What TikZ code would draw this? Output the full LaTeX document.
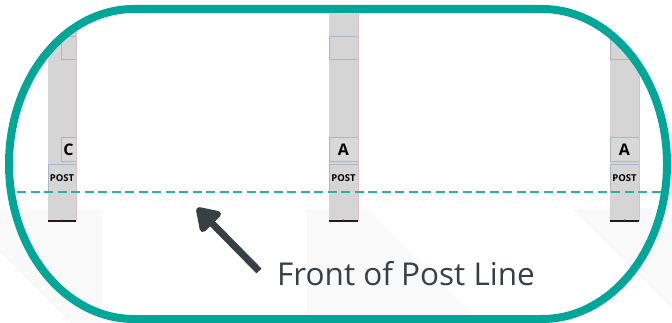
\documentclass[tikz,border=0pt]{standalone}
\usepackage{fontspec}
\setmainfont{Open Sans}
\usetikzlibrary{arrows.meta}
\definecolor{ringteal}{HTML}{00A698}
\definecolor{dashteal}{HTML}{26B3A6}
\definecolor{postgray}{HTML}{D5D5D5}
\definecolor{boxgray}{HTML}{D8D8D8}
\definecolor{boxblue}{HTML}{A9B8C9}
\definecolor{pinkedge}{HTML}{DCC0C6}
\definecolor{footdark}{HTML}{231A1C}
\definecolor{faint}{HTML}{F9F9FA}
\definecolor{inkgray}{HTML}{3A3F43}
\newcommand\mypost[5]{%
  \fill[postgray] (#2,0) rectangle (#3,221);
  \draw[boxline] (#4,36) rectangle (#3,59);
  \draw[boxline,fill=boxgray] (#4,137) rectangle (#3,161);
  \node[lbl] (#1l) at ({(#4+#3)/2},149.5) {#5};
  \draw[boxline] (#2,192) -- (#2,164) -- (#3,164) -- (#3,192);
  \node[posttxt] (#1p) at ({(#2+#3)/2},178.5) {POST};
  \draw[pinkline] (#3,0) -- (#3,221);
  \draw[postfoot] (#2,221) -- (#3,221);
  \fill[blue!70] ({(#2+#3)/2},220) circle (0.6);
}
\begin{document}
\begin{tikzpicture}[x=1pt,y=-1pt,
  boxline/.style={draw=boxblue,line width=0.7pt},
  pinkline/.style={draw=pinkedge,line width=0.5pt},
  postfoot/.style={draw=footdark,line width=2pt},
  lbl/.style={font=\bfseries\fontsize{16}{16}\selectfont,text=black,inner sep=0pt},
  posttxt/.style={font=\bfseries\fontsize{9.5}{10}\selectfont,text=black,inner sep=0pt},
  ring/.style={draw=ringteal,line width=8pt},
  dashline/.style={draw=dashteal,line width=1.8pt,dash pattern=on 9pt off 4.5pt},
  pointer/.style={draw=inkgray,line width=7pt,-{Triangle[length=25pt,width=31pt,round]}},
  caption/.style={font=\fontsize{31.5}{36}\selectfont,text=inkgray,inner sep=0pt,anchor=base west}
  ]
\useasboundingbox (0,0) rectangle (672,323);
% faint background shapes
\fill[faint] (0,209) -- (102,209) -- (102,323) -- (71,323) -- (0,252) -- cycle;
\fill[faint] (307,209) -- (367,209) -- (481,323) -- (307,323) -- cycle;
\fill[faint] (572,209) -- (672,209) -- (672,309) -- cycle;
\begin{scope}
  \clip (134,9) -- (542,9) arc[start angle=-90,end angle=90,x radius=125,y radius=155]
        -- (134,319) arc[start angle=90,end angle=270,x radius=125,y radius=155] -- cycle;
  \mypost{pl}{48}{76}{61}{C}
  \mypost{pm}{329}{358}{329}{A}
  \mypost{pr}{610}{639}{610}{A}
  \coordinate (dl) at (17,192);
  \coordinate (dr) at (663,192);
  \draw[dashline] (dl) -- (dr);
\end{scope}
\draw[ring] (134,9) -- (542,9) arc[start angle=-90,end angle=90,x radius=125,y radius=155]
        -- (134,319) arc[start angle=90,end angle=270,x radius=125,y radius=155] -- cycle;
\coordinate (atail) at (259,271);
\coordinate (atip) at (197,208);
\draw[pointer] (atail) -- (atip);
\node[caption] (cap) at (277,285) {Front of Post Line};
\end{tikzpicture}
\end{document}
